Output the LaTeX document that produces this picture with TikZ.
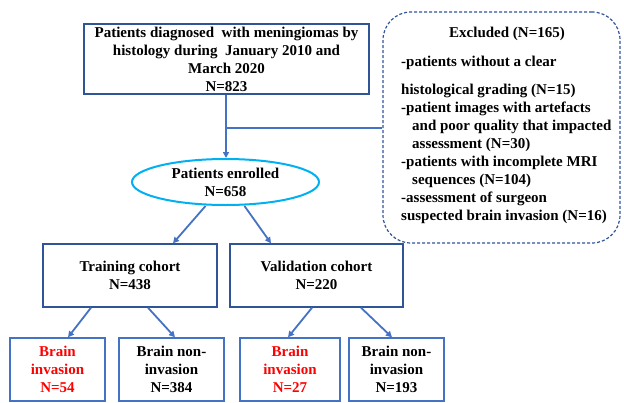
\documentclass[tikz,border=0pt]{standalone}
\usepackage{fontspec}
\setmainfont{Liberation Serif}
\usetikzlibrary{arrows.meta,shapes.geometric}
\definecolor{dblue}{HTML}{2F5597}
\definecolor{mblue}{HTML}{4472C4}
\definecolor{cyanb}{HTML}{00B0F0}
\definecolor{lred}{HTML}{FF0000}
\begin{document}
\begin{tikzpicture}[x=1pt,y=-1pt,
  every node/.style={font=\bfseries\fontsize{15}{18}\selectfont, align=center, inner sep=0pt},
  bigbox/.style={draw=dblue, line width=1.4pt, rectangle},
  smallbox/.style={draw=mblue, line width=1.4pt, rectangle, minimum height=63pt},
  conn/.style={draw=mblue, line width=1.8pt, -{Triangle[length=6pt,width=6pt]}},
  plain/.style={draw=mblue, line width=1.8pt}
]
\useasboundingbox (0,0) rectangle (624,402);
\node[bigbox, minimum width=285pt, minimum height=70pt] (top) at (226.5,59)
  {Patients diagnosed\ \ with meningiomas by\\histology during\ \ January 2010 and\\March 2020\\N=823};
\node[draw=dblue, line width=1.2pt, dash pattern=on 3pt off 2pt, rounded corners=28pt, minimum width=237pt, minimum height=231pt] (excl) at (501.5,127.5) {};
\node (exclt) at (507,34) {Excluded (N=165)};
\node[anchor=north west, align=left] (excltxt) at (401,55.5)
  {-patients without a clear\\[10pt]
   histological grading (N=15)\\
   -patient images with artefacts\\
   \hspace*{11pt}and poor quality that impacted\\
   \hspace*{11pt}assessment (N=30)\\
   -patients with incomplete MRI\\
   \hspace*{11pt}sequences (N=104)\\
   -assessment of surgeon\\
   suspected brain invasion (N=16)};
\node[ellipse, draw=cyanb, line width=2pt, minimum width=187pt, minimum height=46pt] (ell) at (225.5,182)
  {Patients enrolled\\N=658};
\node[bigbox, minimum width=174pt, minimum height=63pt] (train) at (130,275.5) {Training cohort\\N=438};
\node[bigbox, minimum width=173pt, minimum height=63pt] (valid) at (316.5,275.5) {Validation cohort\\N=220};
\node[smallbox, minimum width=95pt, text=lred] (b1) at (57.5,369.5) {Brain\\invasion\\N=54};
\node[smallbox, minimum width=105pt] (b2) at (171.5,369.5) {Brain non-\\invasion\\N=384};
\node[smallbox, minimum width=100pt, text=lred] (b3) at (290,369.5) {Brain\\invasion\\N=27};
\node[smallbox, minimum width=95pt] (b4) at (396.5,369.5) {Brain non-\\invasion\\N=193};
\coordinate (j) at (226,128);
\draw[conn] ([xshift=-0.5pt]top.south) -- ([xshift=0.5pt]ell.north);
\draw[plain] (j) -- (j -| excl.west);
\draw[conn] ([xshift=-20pt]ell.south) -- ([xshift=43pt]train.north);
\draw[conn] ([xshift=19pt]ell.south) -- ([xshift=-45.5pt]valid.north);
\draw[conn] ([xshift=-39pt]train.south) -- ([xshift=10.5pt]b1.north);
\draw[conn] ([xshift=18pt]train.south) -- ([xshift=3.5pt]b2.north);
\draw[conn] ([xshift=-4.5pt]valid.south) -- ([xshift=-2pt]b3.north);
\draw[conn] ([xshift=44.5pt]valid.south) -- ([xshift=-4.5pt]b4.north);
\end{tikzpicture}
\end{document}
